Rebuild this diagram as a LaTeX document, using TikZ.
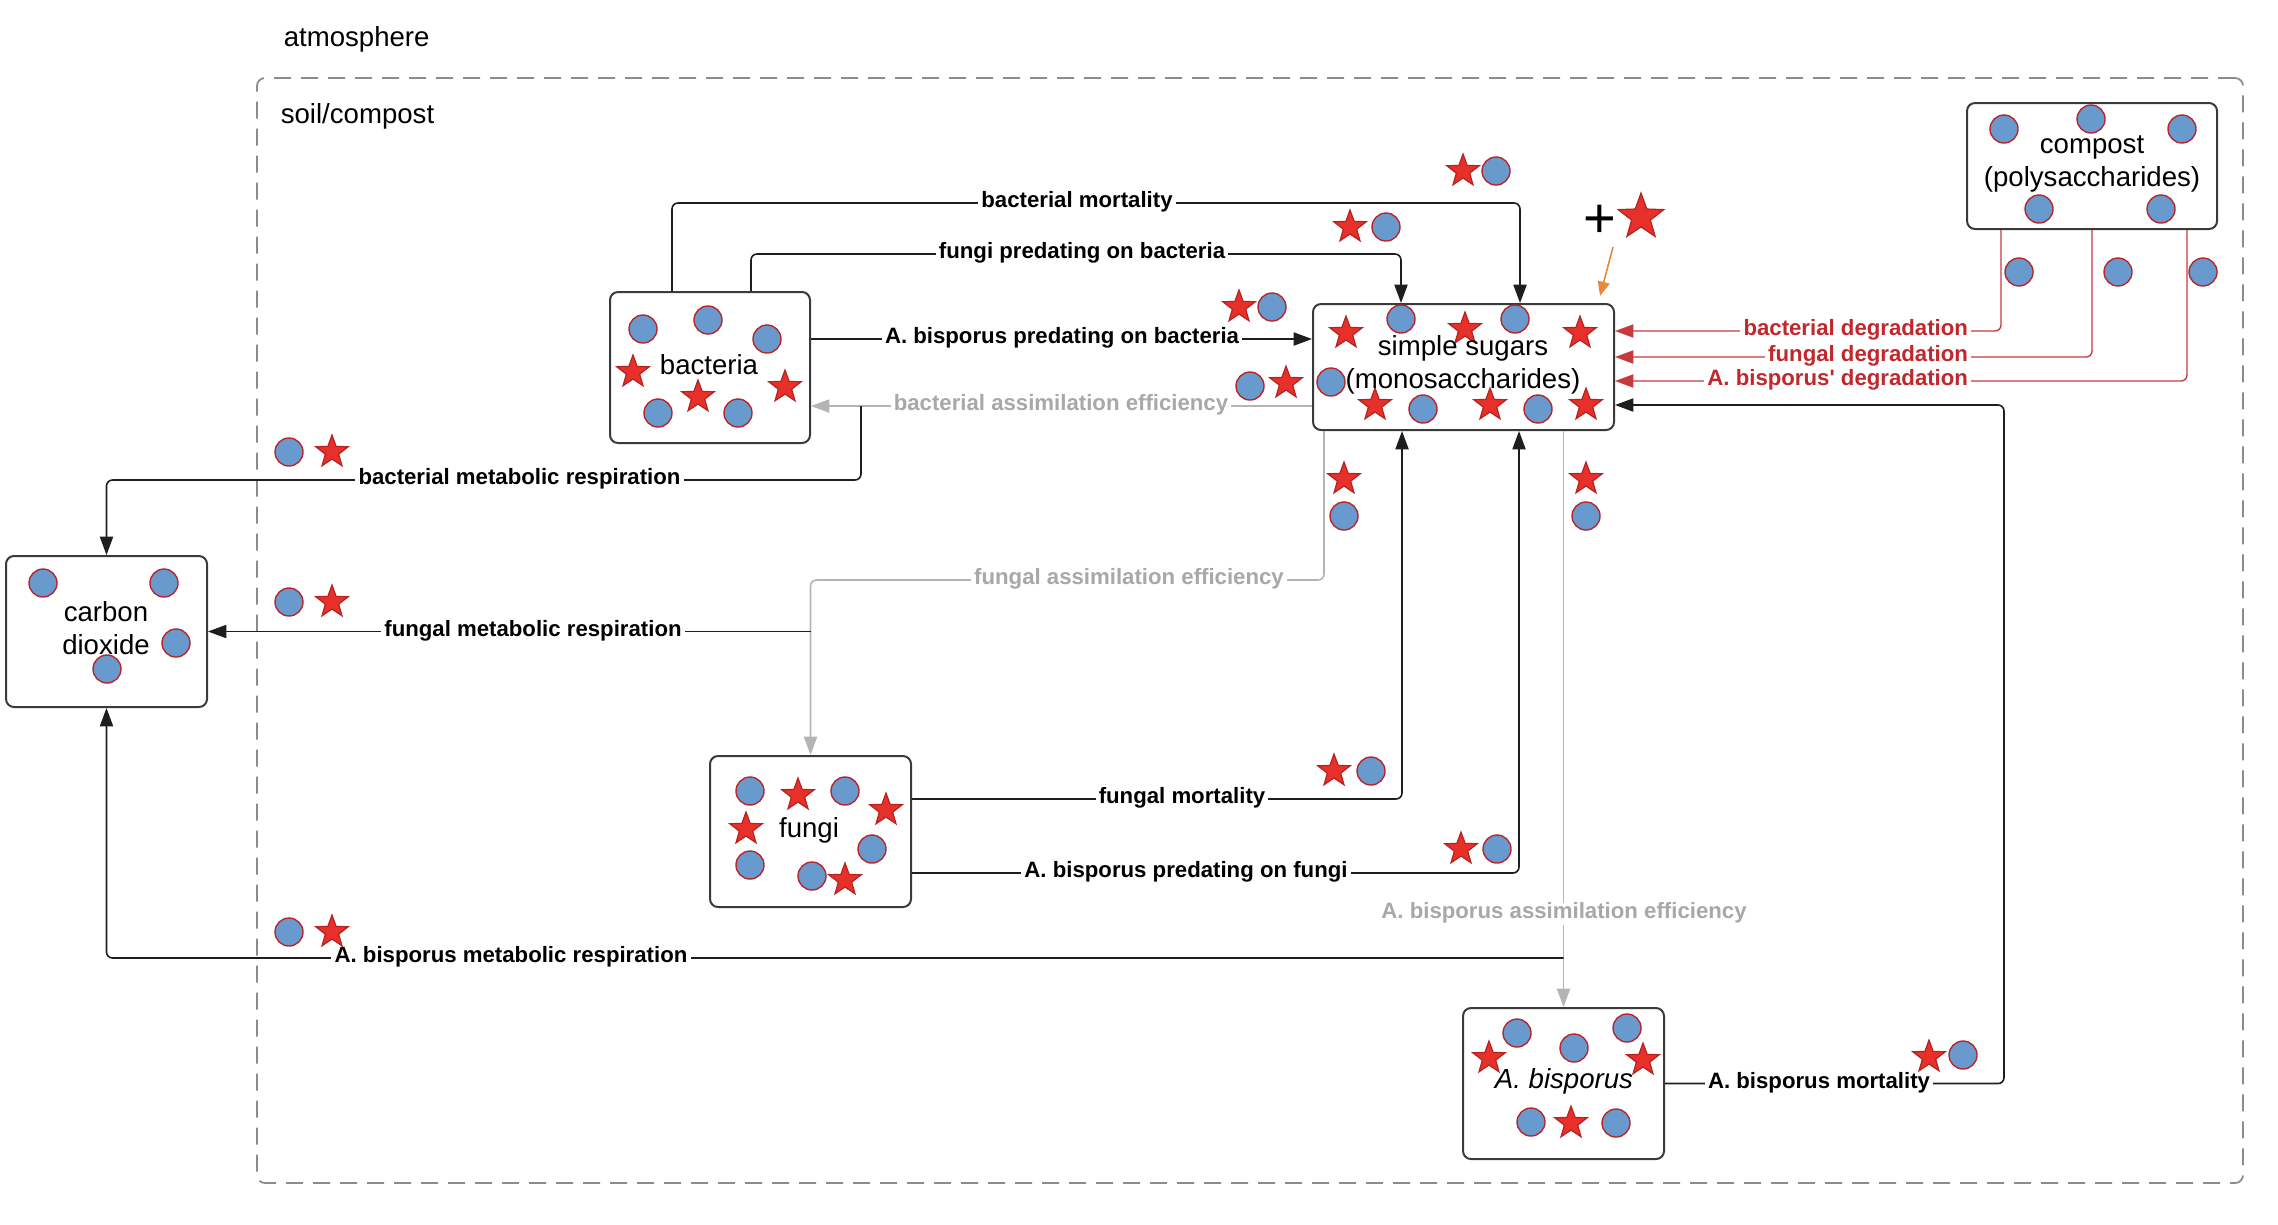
\documentclass[tikz,border=0pt]{standalone}
\usepackage{fontspec}
\setmainfont{Liberation Sans}
\usetikzlibrary{arrows.meta}
\definecolor{dotblue}{HTML}{689ACE}
\definecolor{dotred}{HTML}{B8262B}
\definecolor{starfill}{HTML}{E8302A}
\definecolor{starline}{HTML}{B52220}
\definecolor{boxline}{HTML}{3A3A3A}
\definecolor{lineblack}{HTML}{1E1E1E}
\definecolor{lightgray}{HTML}{B4B4B4}
\definecolor{labelgray}{HTML}{A8A8A8}
\definecolor{degred}{HTML}{C43A3D}
\definecolor{deglabel}{HTML}{C1272D}
\definecolor{orangearrow}{HTML}{E8883A}
\definecolor{dashgray}{HTML}{8C8C8C}
\begin{document}
\begin{tikzpicture}[x=0.25pt,y=-0.25pt,
  box/.style={draw=boxline, line width=0.5pt, fill=white, rounded corners=2pt, inner sep=0pt},
  txt/.style={align=center, inner sep=0pt, font=\fontsize{6.9pt}{8.3pt}\selectfont},
  conn/.style={draw=lineblack, line width=0.4pt, rounded corners=1.5pt, -{Triangle[length=4.6pt,width=3.3pt]}},
  gconn/.style={conn, draw=lightgray, -{Triangle[length=4.6pt,width=3.3pt,fill=lightgray]}},
  rconn/.style={conn, draw=degred, line width=0.35pt},
  oconn/.style={draw=orangearrow, line width=0.4pt, -{Triangle[length=3.6pt,width=3pt]}},
  lbl/.style={fill=white, inner xsep=0.8pt, inner ysep=0pt, text height=3.9pt, text depth=1.65pt, font=\fontsize{5.55pt}{6.5pt}\selectfont\bfseries, text=black},
  glbl/.style={lbl, text=labelgray},
  rlbl/.style={lbl, text=deglabel},
  dotsty/.style={fill=dotblue, draw=dotred, line width=0.35pt},
  starsty/.style={fill=starfill, draw=starline, line width=0.3pt},
  dot/.pic={\draw[dotsty] (0,0) circle[radius=14];},
  st/.pic={\draw[starsty] (-90:17) -- (-54:7) -- (-18:17) -- (18:7) -- (54:17) -- (90:7) -- (126:17) -- (162:7) -- (198:17) -- (234:7) -- cycle;}
]
\useasboundingbox (0,0) rectangle (2278,1224);

% region
\node[draw=dashgray, line width=0.45pt, dash pattern=on 4.25pt off 2.5pt, rounded corners=2pt,
      minimum width=496.5pt, minimum height=276.25pt, inner sep=0pt] (soil) at (1250,630.5) {};
\node[anchor=west, inner sep=0pt, font=\fontsize{6.9pt}{8.3pt}\selectfont] (atm) at (283,39) {atmosphere};
\node[anchor=west, inner sep=0pt, font=\fontsize{6.9pt}{8.3pt}\selectfont] (soillbl) at (280,116) {soil/compost};

% boxes
\node[box, minimum width=50pt, minimum height=37.75pt] (bac) at (710,367.5) {};
\node[box, minimum width=75.25pt, minimum height=31.5pt] (sug) at (1463.5,367) {};
\node[box, minimum width=50.25pt, minimum height=37.75pt] (co2) at (106.5,631.5) {};
\node[box, minimum width=50.25pt, minimum height=37.75pt] (fun) at (810.5,831.5) {};
\node[box, minimum width=50.25pt, minimum height=37.75pt] (abi) at (1563.5,1083.5) {};
\node[box, minimum width=62.5pt, minimum height=31.5pt] (com) at (2092,166) {};

% connectors
\draw[conn] (bac.north -| 672,0) |- (1077,203) -| (sug.north -| 1520,0);
\draw[conn] (bac.north -| 751,0) |- (1082,254) -| (sug.north -| 1401,0);
\draw[conn] (bac.east |- 0,339) -- (sug.west |- 0,339);
\draw[gconn] (sug.west |- 0,406) -- (bac.east |- 0,406);
\coordinate (br1) at (861,406);
\draw[conn] (br1) |- (519,480) -| (co2.north);
\draw[gconn] (sug.south -| 1324,0) |- (1129,580) -| (fun.north);
\coordinate (br2) at (810.5,631.5);
\draw[conn] (br2) -- (co2.east);
\draw[conn] (fun.east |- 0,799) -| (sug.south -| 1402,0);
\draw[conn] (fun.east |- 0,873) -| (sug.south -| 1519,0);
\draw[gconn] (sug.south -| abi.north) -- (abi.north);
\coordinate (br3) at (1563.5,958);
\draw[conn] (br3) -| (co2.south);
\draw[conn] (abi.east) -| (2004,405) -- (sug.east |- 0,405);
\draw[rconn] (com.south -| 2001,0) |- (sug.east |- 0,331);
\draw[rconn] (com.south) |- (sug.east |- 0,357);
\draw[rconn] (com.south -| 2187,0) |- (sug.east |- 0,381);
\coordinate (oa1) at (1613,247);
\coordinate (oa2) at (1600,296);
\draw[oconn] (oa1) -- (oa2);

% connector labels
\node[lbl] (l1) at (1077,203) {bacterial mortality};
\node[lbl] (l2) at (1082,254) {fungi predating on bacteria};
\node[lbl] (l3) at (1062,339) {A. bisporus predating on bacteria};
\node[glbl] (l4) at (1061,406) {bacterial assimilation efficiency};
\node[lbl] (l5) at (519.5,480) {bacterial metabolic respiration};
\node[glbl] (l6) at (1129,580) {fungal assimilation efficiency};
\node[lbl] (l7) at (533,631.5) {fungal metabolic respiration};
\node[lbl] (l8) at (1182,799) {fungal mortality};
\node[lbl] (l9) at (1186,873) {A. bisporus predating on fungi};
\node[glbl] (l10) at (1564,914) {A. bisporus assimilation efficiency};
\node[lbl] (l11) at (511,958) {A. bisporus metabolic respiration};
\node[lbl] (l12) at (1819,1083.5) {A. bisporus mortality};
\node[rlbl, anchor=east] (l13) at (1972,331) {bacterial degradation};
\node[rlbl, anchor=east] (l14) at (1972,357) {fungal degradation};
\node[rlbl, anchor=east] (l15) at (1972,381) {A. bisporus\textquotesingle{} degradation};

% markers inside boxes
\foreach \p in {(643,329),(708,320),(767,339),(658,413),(738,413),
                (1401,319),(1515,319),(1331,382),(1423,409),(1538,409),
                (43,583),(164,583),(176,643),(107,669),
                (750,791),(845,791),(872,849),(750,865),(812,876),
                (1517,1033),(1574,1048),(1627,1028),(1531,1122),(1616,1123),
                (2004,129),(2091,119),(2182,129),(2039,209),(2161,209)}
  \pic at \p {dot};
\foreach \p in {(633,372),(698,397),(785,387),
                (1346,333),(1465,329),(1580,333),(1375,405),(1490,405),(1586,405),
                (798,795),(886,810),(746,829),(845,880),
                (1489,1058),(1643,1060),(1571,1123)}
  \pic at \p {st};

% markers on flows
\foreach \p in {(1496,171),(1386,227),(1272,307),(1250,386),(289,452),(289,602),
                (1344,516),(1586,516),(1371,771),(1497,849),(289,932),(1963,1055),
                (2019,272),(2118,272),(2203,272)}
  \pic at \p {dot};
\foreach \p in {(1463,171),(1350,227),(1239,307),(1286,383),(332,452),(332,602),
                (1344,479),(1586,479),(1334,771),(1461,849),(332,932),(1929,1057)}
  \pic at \p {st};
\pic[scale=1.41] at (1641,217) {st};
\node[inner sep=0pt, font=\fontsize{14pt}{14pt}\selectfont] (plus) at (1600,221) {+};

% box texts
\node[txt] (baclbl) at (709,365) {bacteria};
\node[txt] (suglbl) at (1463,365) {simple sugars\\(monosaccharides)};
\node[txt] (co2lbl) at (106,628) {carbon\\dioxide};
\node[txt] (funlbl) at (809,830) {fungi};
\node[txt] (abilbl) at (1564,1081) {\itshape A. bisporus};
\node[txt] (comlbl) at (2092,164) {compost\\(polysaccharides)};
\end{tikzpicture}
\end{document}
